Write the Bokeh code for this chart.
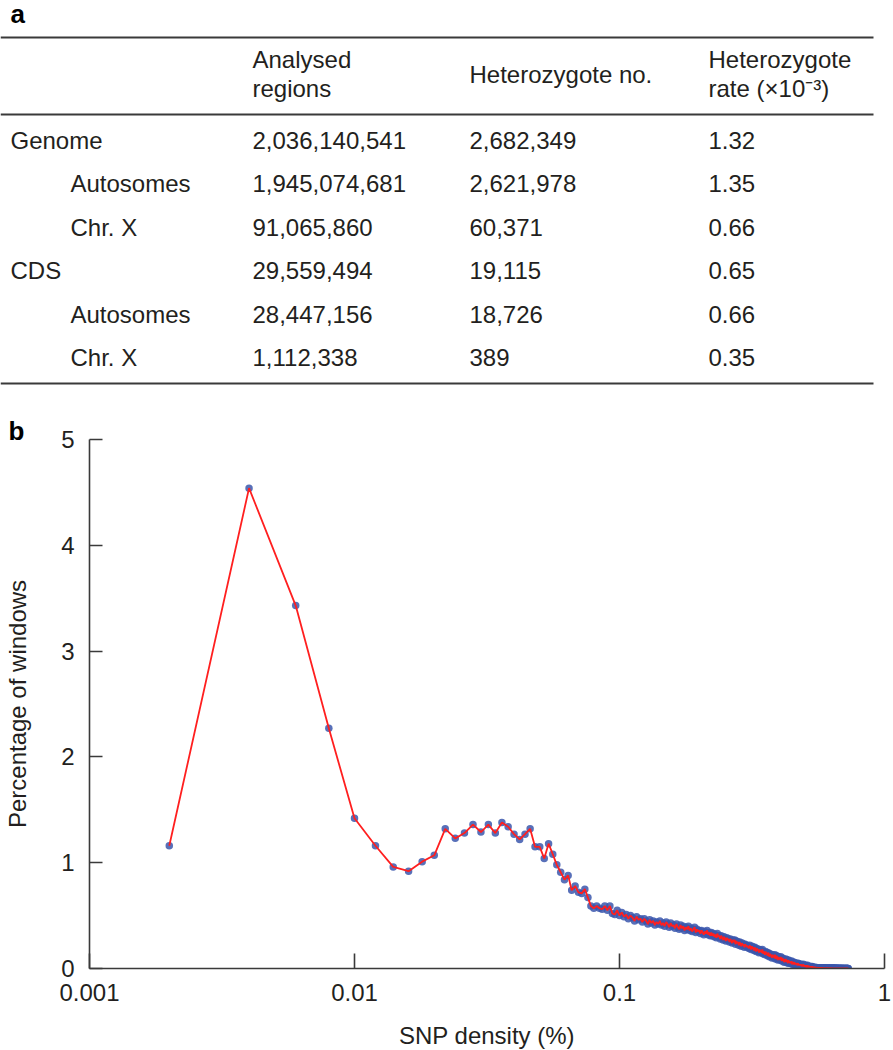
from bokeh.plotting import figure
from bokeh.layouts import column
from bokeh.models import Range1d, FixedTicker, CustomJSTickFormatter, ColumnDataSource, Title
from bokeh.embed import file_html
from bokeh.resources import INLINE
from bokeh.core.properties import value

# ---------------- data: panel a (table) ----------------
header_analysed = ["Analysed", "regions"]
header_het_no = ["Heterozygote no."]
header_het_rate = ["Heterozygote", "rate (\u00d710\u207b\u00b3)"]
row_labels = ["Genome", "Autosomes", "Chr. X", "CDS", "Autosomes", "Chr. X"]
row_indent = [0, 1, 1, 0, 1, 1]
analysed_regions = [2036140541, 1945074681, 91065860, 29559494, 28447156, 1112338]
heterozygote_no = [2682349, 2621978, 60371, 19115, 18726, 389]
heterozygote_rate = [1.32, 1.35, 0.66, 0.65, 0.66, 0.35]

# ---------------- data: panel b (SNP density) ----------------
bin_width = 0.002
pct_windows = [
    1.16, 4.54, 3.43, 2.27, 1.42, 1.16, 0.96, 0.92, 1.01, 1.07,
    1.32, 1.23, 1.28, 1.36, 1.29, 1.36, 1.28, 1.38, 1.34, 1.27,
    1.22, 1.27, 1.32, 1.15, 1.15, 1.04, 1.18, 1.08, 0.98, 0.91,
    0.84, 0.88, 0.74, 0.78, 0.72, 0.71, 0.75, 0.67, 0.59, 0.57,
    0.59, 0.57, 0.56, 0.59, 0.55, 0.59, 0.52, 0.51, 0.55, 0.50,
    0.53, 0.49, 0.51, 0.47, 0.50, 0.48, 0.45, 0.49, 0.46, 0.47,
    0.44, 0.47, 0.45, 0.42, 0.46, 0.43, 0.45, 0.41, 0.44, 0.42,
    0.45, 0.41, 0.43, 0.40, 0.44, 0.42, 0.39, 0.43, 0.40, 0.41,
    0.38, 0.42, 0.39, 0.37, 0.41, 0.38, 0.40, 0.36, 0.39, 0.37,
    0.40, 0.36, 0.38, 0.35, 0.37, 0.39, 0.34, 0.37, 0.35, 0.36,
    0.33, 0.36, 0.34, 0.32, 0.35, 0.33, 0.36, 0.32, 0.34, 0.31,
    0.34, 0.31, 0.33, 0.30, 0.32, 0.29, 0.33, 0.30, 0.31, 0.28,
    0.31, 0.29, 0.27, 0.30, 0.28, 0.26, 0.29, 0.27, 0.28, 0.25,
    0.28, 0.26, 0.24, 0.27, 0.25, 0.27, 0.23, 0.26, 0.24, 0.25,
    0.22, 0.25, 0.23, 0.21, 0.24, 0.22, 0.23, 0.20, 0.23, 0.21,
    0.22, 0.20, 0.21, 0.19, 0.22, 0.20, 0.18, 0.21, 0.19, 0.20,
    0.17, 0.20, 0.18, 0.16, 0.19, 0.17, 0.18, 0.15, 0.18, 0.16,
    0.17, 0.15, 0.18, 0.14, 0.16, 0.15, 0.13, 0.16, 0.14, 0.15,
    0.12, 0.15, 0.13, 0.11, 0.14, 0.12, 0.13, 0.10, 0.13, 0.11,
    0.12, 0.10, 0.13, 0.09, 0.11, 0.12, 0.10, 0.08, 0.11, 0.09,
    0.10, 0.08, 0.11, 0.09, 0.07, 0.10, 0.08, 0.09, 0.06, 0.08,
    0.07, 0.09, 0.06, 0.08, 0.07, 0.05, 0.08, 0.06, 0.07, 0.05,
    0.06, 0.05, 0.07, 0.04, 0.06, 0.05, 0.04, 0.06, 0.05, 0.04,
    0.05, 0.04, 0.05, 0.03, 0.04, 0.05, 0.03, 0.04, 0.03, 0.04,
    0.03, 0.04, 0.02, 0.03, 0.03, 0.02, 0.04, 0.02, 0.03, 0.02,
    0.02, 0.03, 0.02, 0.01, 0.02, 0.03, 0.02, 0.01, 0.02, 0.02,
    0.01, 0.02, 0.01, 0.02, 0.01, 0.01, 0.02, 0.01, 0.01, 0.01,
    0.01, 0.01, 0.005, 0.01, 0.01, 0.005, 0.01, 0.005, 0.008, 0.006,
    0.006, 0.005, 0.007, 0.004, 0.005, 0.006, 0.004, 0.005, 0.004, 0.005,
    0.004, 0.005, 0.003, 0.004, 0.004, 0.003, 0.004, 0.003, 0.003, 0.004,
    0.003, 0.002, 0.003, 0.003, 0.002, 0.003, 0.002, 0.002, 0.003, 0.002,
    0.002, 0.003, 0.002, 0.002, 0.002, 0.003, 0.002, 0.002, 0.002, 0.002,
    0.002, 0.002, 0.001, 0.002, 0.002, 0.001, 0.002, 0.002, 0.001, 0.002,
    0.001, 0.002, 0.001, 0.001, 0.002, 0.001, 0.001, 0.001, 0.002, 0.001,
    0.001, 0.001, 0.001, 0.001, 0.002, 0.001, 0.001, 0.001, 0.001, 0.001,
    0.001, 0.001, 0.001, 0.001, 0.001, 0.001, 0.001, 0.001, 0.001, 0.001,
    0.001, 0.001, 0.001, 0.001, 0.001,
]
snp_density = [round(bin_width * (i + 1), 3) for i in range(len(pct_windows))]
x_ticks = [0.001, 0.01, 0.1, 1]
y_ticks = [0, 1, 2, 3, 4, 5]

FONT = "Liberation Sans"
TXT = "#231f20"
RULE = "#3a3a3a"

TABLE_H = 394   # chart figure starts here; its top border holds the "b" letter

# ---------------- panel a: table ----------------
t = figure(width=893, height=TABLE_H, x_range=Range1d(0, 893), y_range=Range1d(TABLE_H, 0),
           x_axis_location=None, y_axis_location=None, min_border=0,
           output_backend="svg", toolbar_location=None, frame_align=False)
t.grid.grid_line_color = None
t.outline_line_color = None

t.segment(x0=[0, 0, 0], y0=[37, 114, 383], x1=[873, 873, 873], y1=[37, 114, 383],
          line_color=RULE, line_width=2.2)

col_x = [252, 469, 708]
label_x = [10, 70]
row_y0, row_step = 139.5, 43.5

tx, ty, tt = [], [], []
for i, s in enumerate(header_analysed):
    tx.append(col_x[0]); ty.append(58.5 + 29 * i); tt.append(s)
tx.append(col_x[1]); ty.append(73.5); tt.append(header_het_no[0])
for i, s in enumerate(header_het_rate):
    tx.append(col_x[2]); ty.append(58.5 + 29 * i); tt.append(s)
for i, lab in enumerate(row_labels):
    y = row_y0 + row_step * i
    tx.append(label_x[row_indent[i]]); ty.append(y); tt.append(lab)
    tx.append(col_x[0]); ty.append(y); tt.append(f"{analysed_regions[i]:,}")
    tx.append(col_x[1]); ty.append(y); tt.append(f"{heterozygote_no[i]:,}")
    tx.append(col_x[2]); ty.append(y); tt.append(f"{heterozygote_rate[i]:.2f}")

t.text(x=tx, y=ty, text=tt, text_font=value(FONT), text_font_size="24px",
       text_color=TXT, text_align="left", text_baseline="middle")
t.text(x=[10], y=[13.5], text=["a"], text_font=value(FONT), text_font_size="26px",
       text_font_style="bold", text_color="#000000", text_align="left", text_baseline="middle")

# ---------------- panel b: chart ----------------
p = figure(x_axis_type="log", x_range=Range1d(0.001, 1), y_range=Range1d(0, 5),
           frame_width=795, frame_height=529,
           min_border_left=89, min_border_right=9, min_border_top=439 - TABLE_H, min_border_bottom=82,
           output_backend="svg", toolbar_location=None, frame_align=False)
p.grid.grid_line_color = None
p.outline_line_color = None

p.add_layout(Title(text="b", align="left", offset=-81, standoff=-13,
                   text_font=FONT, text_font_size="26px", text_font_style="bold",
                   text_color="#000000"), "above")

src = ColumnDataSource(dict(x=snp_density, y=pct_windows))
p.scatter("x", "y", source=src, size=7.5, fill_color="#3b57ad", line_color=None, fill_alpha=0.85)
p.line("x", "y", source=src, line_color="#ff1f1f", line_width=1.8)

for ax in (p.xaxis[0], p.yaxis[0]):
    ax.axis_line_color = RULE
    ax.axis_line_width = 1.6
    ax.major_tick_line_color = RULE
    ax.major_tick_line_width = 1.6
    ax.major_tick_out = 0
    ax.minor_tick_line_color = None
    ax.major_label_text_font = FONT
    ax.major_label_text_font_size = "24px"
    ax.major_label_text_color = TXT
    ax.axis_label_text_font = FONT
    ax.axis_label_text_font_size = "24px"
    ax.axis_label_text_font_style = "normal"
    ax.axis_label_text_color = TXT

p.xaxis.ticker = FixedTicker(ticks=x_ticks)
p.xaxis.formatter = CustomJSTickFormatter(code="return Number(tick.toPrecision(2)).toString();")
p.xaxis.major_tick_in = 15
p.xaxis.major_label_standoff = 15
p.xaxis.axis_label = "SNP density (%)"
p.xaxis.axis_label_standoff = 18

p.yaxis.ticker = FixedTicker(ticks=y_ticks)
p.yaxis.major_tick_in = 13
p.yaxis.major_label_standoff = 15
p.yaxis.axis_label = "Percentage of windows"
p.yaxis.axis_label_standoff = 27

layout = column(t, p, spacing=0)
open("out.html", "w").write(file_html(layout, INLINE))
